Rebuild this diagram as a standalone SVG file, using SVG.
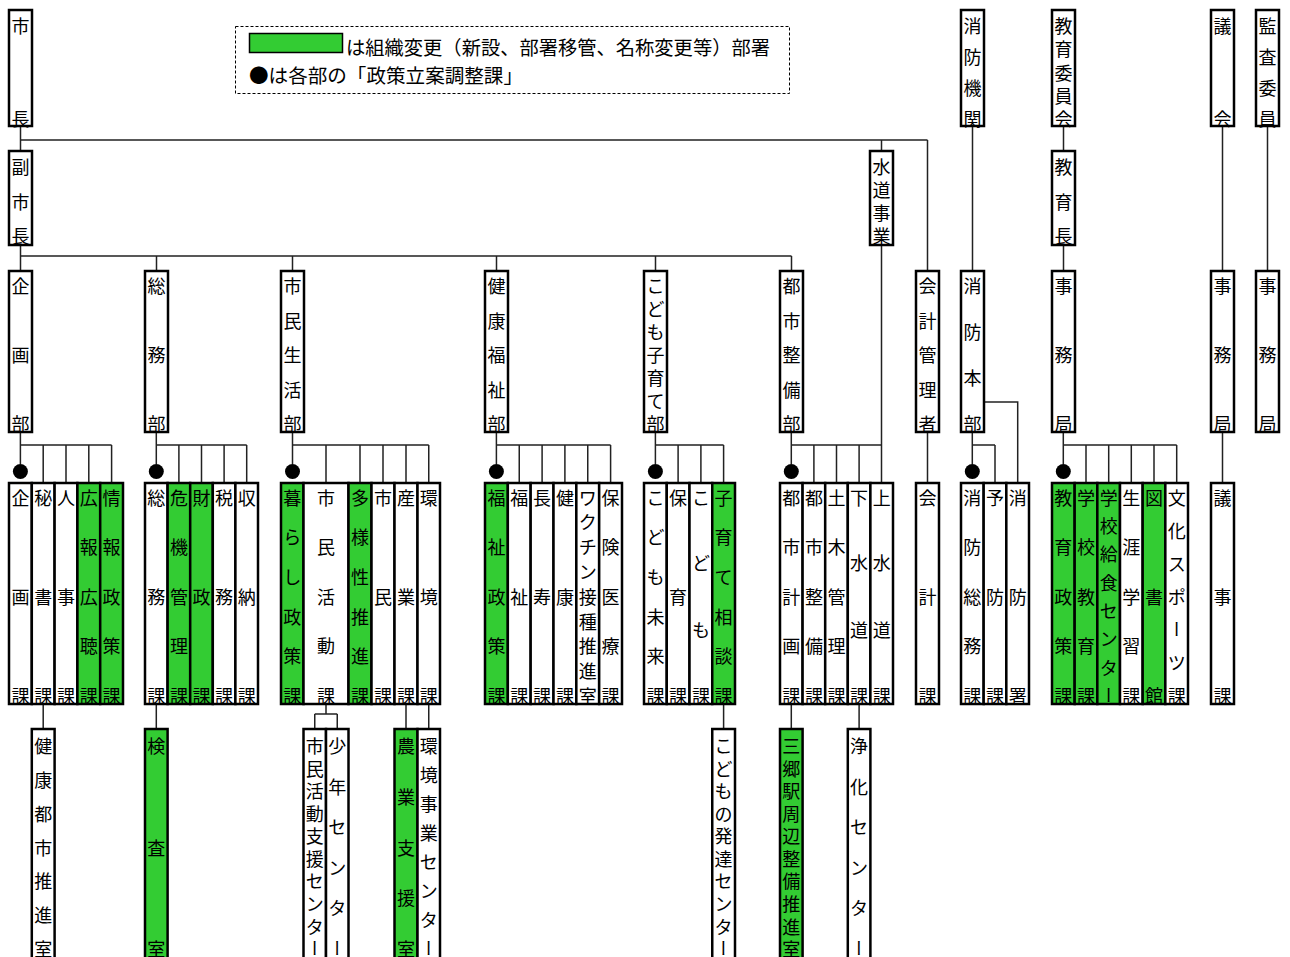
<svg xmlns="http://www.w3.org/2000/svg" width="1290" height="957" viewBox="0 0 1290 957">
<style>
.b{fill:#fff;stroke:#000;stroke-width:2.5}
.g{fill:#33cc33;stroke:#000;stroke-width:2.5}
.ln{fill:none;stroke:#222;stroke-width:1.5}
text{font-family:'Noto Sans CJK JP','Noto Sans CJK SC',sans-serif;fill:#000}
.t{font-size:18px;text-anchor:middle;dominant-baseline:central}
.v{writing-mode:vertical-rl}
.lg{font-size:19.5px}
</style>
<rect x="0" y="0" width="1290" height="957" fill="#fff"/>

<g id="legend">
<rect x="235.5" y="26.5" width="554" height="67" fill="none" stroke="#000" stroke-width="1" stroke-dasharray="3,2"/>
<rect x="249.5" y="33.5" width="93" height="19" fill="#33cc33" stroke="#000" stroke-width="1.5"/>
<text class="lg" x="346" y="55" textLength="424" lengthAdjust="spacingAndGlyphs">は組織変更（新設、部署移管、名称変更等）部署</text>
<text class="lg" x="249" y="83" textLength="274" lengthAdjust="spacingAndGlyphs">●は各部の「政策立案調整課」</text>
</g>

<g id="connectors">
<path class="ln" d="M20.5 126V151M20.5 140H927.5M881.5 140V151M927.5 140V271M20.5 245V271M20.5 256H791.5M156.5 256V271M292.5 256V271M496.5 256V271M655.5 256V271M791.5 256V271"/>
<path class="ln" d="M881.5 245V483M972.5 126V271M1063.5 126V151M1063.5 245V271M1222.5 126V271M1267.5 126V271M927.5 432V483M1222.5 432V483"/>
<path class="ln" d="M20.4 432V464M20.4 445H111.6M43.2 445V483M66 445V483M88.8 445V483M111.6 445V483"/>
<path class="ln" d="M156.3 432V464M156.3 445H246.7M178.9 445V483M201.5 445V483M224.1 445V483M246.7 445V483"/>
<path class="ln" d="M292.5 432V464M292.5 445H428.75M326 445V483M360 445V483M383 445V483M406 445V483M428.75 445V483"/>
<path class="ln" d="M496.4 432V464M496.4 445H610.6M519.25 445V483M542.1 445V483M564.9 445V483M587.75 445V483M610.6 445V483"/>
<path class="ln" d="M655.4 432V464M655.4 445H723.6M678.1 445V483M700.9 445V483M723.6 445V483"/>
<path class="ln" d="M791.3 432V464M791.3 445H881.7M813.9 445V483M836.5 445V483M859.1 445V483"/>
<path class="ln" d="M972.3 432V464M972.3 445H995M995 445V483M984 402H1017.7V483"/>
<path class="ln" d="M1063.3 432V464M1063.3 445H1176.7M1086 445V483M1108.7 445V483M1131.3 445V483M1154 445V483M1176.7 445V483"/>
<path class="ln" d="M43.2 704V729M156.3 704V729M326 704V714M314.75 714H337.25M314.75 714V729M337.25 714V729M406 704V729M428.75 704V729M723.6 704V729M791.3 704V729M859.1 704V729"/>
<g fill="#000">
<circle cx="20.4" cy="471.5" r="7.5"/><circle cx="156.3" cy="471.5" r="7.5"/><circle cx="292.5" cy="471.5" r="7.5"/><circle cx="496.4" cy="471.5" r="7.5"/><circle cx="655.4" cy="471.5" r="7.5"/><circle cx="791.3" cy="471.5" r="7.5"/><circle cx="972.3" cy="471.5" r="7.5"/><circle cx="1063.3" cy="471.5" r="7.5"/>
</g>
</g>

<g id="mayor"><rect class="b" x="9" y="10" width="23" height="116"/><text class="t" x="20.5" y="25">市</text><text class="t" x="20.5" y="118">長</text></g>
<g id="vice-mayor"><rect class="b" x="9" y="151" width="23" height="94"/><text class="t" x="20.5" y="166">副</text><text class="t" x="20.5" y="200.5">市</text><text class="t" x="20.5" y="235">長</text></g>
<g id="water"><rect class="b" x="870" y="151" width="23" height="94"/><text class="t" x="881.5" y="166">水</text><text class="t" x="881.5" y="189">道</text><text class="t" x="881.5" y="212">事</text><text class="t" x="881.5" y="235">業</text></g>
<g id="fire-org"><rect class="b" x="961" y="10" width="23" height="116"/><text class="t" x="972.5" y="25">消</text><text class="t" x="972.5" y="56">防</text><text class="t" x="972.5" y="87">機</text><text class="t" x="972.5" y="118">関</text></g>
<g id="edu-board"><rect class="b" x="1052" y="10" width="23" height="116"/><text class="t" x="1063.5" y="25">教</text><text class="t" x="1063.5" y="48.25">育</text><text class="t" x="1063.5" y="71.5">委</text><text class="t" x="1063.5" y="94.75">員</text><text class="t" x="1063.5" y="118">会</text></g>
<g id="edu-chief"><rect class="b" x="1052" y="151" width="23" height="94"/><text class="t" x="1063.5" y="166">教</text><text class="t" x="1063.5" y="200.5">育</text><text class="t" x="1063.5" y="235">長</text></g>
<g id="council"><rect class="b" x="1211" y="10" width="23" height="116"/><text class="t" x="1222.5" y="25">議</text><text class="t" x="1222.5" y="118">会</text></g>
<g id="audit"><rect class="b" x="1256" y="10" width="23" height="116"/><text class="t" x="1267.5" y="25">監</text><text class="t" x="1267.5" y="56">査</text><text class="t" x="1267.5" y="87">委</text><text class="t" x="1267.5" y="118">員</text></g>

<g id="dept-kikaku"><rect class="b" x="9" y="271" width="23" height="161"/><text class="t" x="20.5" y="285">企</text><text class="t" x="20.5" y="354">画</text><text class="t" x="20.5" y="423">部</text></g>
<g id="dept-somu"><rect class="b" x="145" y="271" width="23" height="161"/><text class="t" x="156.5" y="285">総</text><text class="t" x="156.5" y="354">務</text><text class="t" x="156.5" y="423">部</text></g>
<g id="dept-shimin"><rect class="b" x="281" y="271" width="23" height="161"/><text class="t" x="292.5" y="285">市</text><text class="t" x="292.5" y="319.5">民</text><text class="t" x="292.5" y="354">生</text><text class="t" x="292.5" y="388.5">活</text><text class="t" x="292.5" y="423">部</text></g>
<g id="dept-kenko"><rect class="b" x="485" y="271" width="23" height="161"/><text class="t" x="496.5" y="285">健</text><text class="t" x="496.5" y="319.5">康</text><text class="t" x="496.5" y="354">福</text><text class="t" x="496.5" y="388.5">祉</text><text class="t" x="496.5" y="423">部</text></g>
<g id="dept-kodomo"><rect class="b" x="644" y="271" width="23" height="161"/><text class="t" x="655.5" y="285">こ</text><text class="t" x="655.5" y="308">ど</text><text class="t" x="655.5" y="331">も</text><text class="t" x="655.5" y="354">子</text><text class="t" x="655.5" y="377">育</text><text class="t" x="655.5" y="400">て</text><text class="t" x="655.5" y="423">部</text></g>
<g id="dept-toshi"><rect class="b" x="780" y="271" width="23" height="161"/><text class="t" x="791.5" y="285">都</text><text class="t" x="791.5" y="319.5">市</text><text class="t" x="791.5" y="354">整</text><text class="t" x="791.5" y="388.5">備</text><text class="t" x="791.5" y="423">部</text></g>
<g id="dept-kaikei"><rect class="b" x="916" y="271" width="23" height="161"/><text class="t" x="927.5" y="285">会</text><text class="t" x="927.5" y="319.5">計</text><text class="t" x="927.5" y="354">管</text><text class="t" x="927.5" y="388.5">理</text><text class="t" x="927.5" y="423">者</text></g>
<g id="dept-shobo"><rect class="b" x="961" y="271" width="23" height="161"/><text class="t" x="972.5" y="285">消</text><text class="t" x="972.5" y="331">防</text><text class="t" x="972.5" y="377">本</text><text class="t" x="972.5" y="423">部</text></g>
<g id="dept-edu"><rect class="b" x="1052" y="271" width="23" height="161"/><text class="t" x="1063.5" y="285">事</text><text class="t" x="1063.5" y="354">務</text><text class="t" x="1063.5" y="423">局</text></g>
<g id="dept-council"><rect class="b" x="1211" y="271" width="23" height="161"/><text class="t" x="1222.5" y="285">事</text><text class="t" x="1222.5" y="354">務</text><text class="t" x="1222.5" y="423">局</text></g>
<g id="dept-audit"><rect class="b" x="1256" y="271" width="23" height="161"/><text class="t" x="1267.5" y="285">事</text><text class="t" x="1267.5" y="354">務</text><text class="t" x="1267.5" y="423">局</text></g>

<g id="sec-kikaku">
<rect class="b" x="9" y="483" width="22.8" height="221"/><text class="t" x="20.4" y="496.5">企</text><text class="t" x="20.4" y="595.5">画</text><text class="t" x="20.4" y="695">課</text>
<rect class="b" x="31.8" y="483" width="22.8" height="221"/><text class="t" x="43.2" y="496.5">秘</text><text class="t" x="43.2" y="595.5">書</text><text class="t" x="43.2" y="695">課</text>
<rect class="b" x="54.6" y="483" width="22.8" height="221"/><text class="t" x="66" y="496.5">人</text><text class="t" x="66" y="595.5">事</text><text class="t" x="66" y="695">課</text>
<rect class="g" x="77.4" y="483" width="22.8" height="221"/><text class="t" x="88.8" y="496.5">広</text><text class="t" x="88.8" y="546">報</text><text class="t" x="88.8" y="595.5">広</text><text class="t" x="88.8" y="645">聴</text><text class="t" x="88.8" y="695">課</text>
<rect class="g" x="100.2" y="483" width="22.8" height="221"/><text class="t" x="111.6" y="496.5">情</text><text class="t" x="111.6" y="546">報</text><text class="t" x="111.6" y="595.5">政</text><text class="t" x="111.6" y="645">策</text><text class="t" x="111.6" y="695">課</text>
</g>
<g id="sec-somu">
<rect class="b" x="145" y="483" width="22.6" height="221"/><text class="t" x="156.3" y="496.5">総</text><text class="t" x="156.3" y="595.5">務</text><text class="t" x="156.3" y="695">課</text>
<rect class="g" x="167.6" y="483" width="22.6" height="221"/><text class="t" x="178.9" y="496.5">危</text><text class="t" x="178.9" y="546">機</text><text class="t" x="178.9" y="595.5">管</text><text class="t" x="178.9" y="645">理</text><text class="t" x="178.9" y="695">課</text>
<rect class="g" x="190.2" y="483" width="22.6" height="221"/><text class="t" x="201.5" y="496.5">財</text><text class="t" x="201.5" y="595.5">政</text><text class="t" x="201.5" y="695">課</text>
<rect class="b" x="212.8" y="483" width="22.6" height="221"/><text class="t" x="224.1" y="496.5">税</text><text class="t" x="224.1" y="595.5">務</text><text class="t" x="224.1" y="695">課</text>
<rect class="b" x="235.4" y="483" width="22.6" height="221"/><text class="t" x="246.7" y="496.5">収</text><text class="t" x="246.7" y="595.5">納</text><text class="t" x="246.7" y="695">課</text>
</g>
<g id="sec-shimin">
<rect class="g" x="281" y="483" width="22.5" height="221"/><text class="t" x="292.25" y="496.5">暮</text><text class="t" x="292.25" y="536.2">ら</text><text class="t" x="292.25" y="575.9">し</text><text class="t" x="292.25" y="615.6">政</text><text class="t" x="292.25" y="655.3">策</text><text class="t" x="292.25" y="695">課</text>
<rect class="b" x="303.5" y="483" width="45" height="221"/><text class="t" x="326" y="496.5">市</text><text class="t" x="326" y="546">民</text><text class="t" x="326" y="595.5">活</text><text class="t" x="326" y="645">動</text><text class="t" x="326" y="695">課</text>
<rect class="g" x="348.5" y="483" width="23" height="221"/><text class="t" x="360" y="496.5">多</text><text class="t" x="360" y="536.2">様</text><text class="t" x="360" y="575.9">性</text><text class="t" x="360" y="615.6">推</text><text class="t" x="360" y="655.3">進</text><text class="t" x="360" y="695">課</text>
<rect class="b" x="371.5" y="483" width="23" height="221"/><text class="t" x="383" y="496.5">市</text><text class="t" x="383" y="595.5">民</text><text class="t" x="383" y="695">課</text>
<rect class="b" x="394.5" y="483" width="23" height="221"/><text class="t" x="406" y="496.5">産</text><text class="t" x="406" y="595.5">業</text><text class="t" x="406" y="695">課</text>
<rect class="b" x="417.5" y="483" width="22.5" height="221"/><text class="t" x="428.75" y="496.5">環</text><text class="t" x="428.75" y="595.5">境</text><text class="t" x="428.75" y="695">課</text>
</g>
<g id="sec-kenko">
<rect class="g" x="485" y="483" width="22.83" height="221"/><text class="t" x="496.4" y="496.5">福</text><text class="t" x="496.4" y="546">祉</text><text class="t" x="496.4" y="595.5">政</text><text class="t" x="496.4" y="645">策</text><text class="t" x="496.4" y="695">課</text>
<rect class="b" x="507.83" y="483" width="22.83" height="221"/><text class="t" x="519.25" y="496.5">福</text><text class="t" x="519.25" y="595.5">祉</text><text class="t" x="519.25" y="695">課</text>
<rect class="b" x="530.67" y="483" width="22.83" height="221"/><text class="t" x="542.1" y="496.5">長</text><text class="t" x="542.1" y="595.5">寿</text><text class="t" x="542.1" y="695">課</text>
<rect class="b" x="553.5" y="483" width="22.83" height="221"/><text class="t" x="564.9" y="496.5">健</text><text class="t" x="564.9" y="595.5">康</text><text class="t" x="564.9" y="695">課</text>
<rect class="b" x="576.33" y="483" width="22.83" height="221"/><text class="t" x="587.75" y="496.5">ワ</text><text class="t" x="587.75" y="521.3">ク</text><text class="t" x="587.75" y="546.1">チ</text><text class="t" x="587.75" y="570.9">ン</text><text class="t" x="587.75" y="595.7">接</text><text class="t" x="587.75" y="620.5">種</text><text class="t" x="587.75" y="645.4">推</text><text class="t" x="587.75" y="670.2">進</text><text class="t" x="587.75" y="695">室</text>
<rect class="b" x="599.17" y="483" width="22.83" height="221"/><text class="t" x="610.6" y="496.5">保</text><text class="t" x="610.6" y="546">険</text><text class="t" x="610.6" y="595.5">医</text><text class="t" x="610.6" y="645">療</text><text class="t" x="610.6" y="695">課</text>
</g>
<g id="sec-kodomo">
<rect class="b" x="644" y="483" width="22.75" height="221"/><text class="t" x="655.4" y="496.5">こ</text><text class="t" x="655.4" y="536.2">ど</text><text class="t" x="655.4" y="575.9">も</text><text class="t" x="655.4" y="615.6">未</text><text class="t" x="655.4" y="655.3">来</text><text class="t" x="655.4" y="695">課</text>
<rect class="b" x="666.75" y="483" width="22.75" height="221"/><text class="t" x="678.1" y="496.5">保</text><text class="t" x="678.1" y="595.5">育</text><text class="t" x="678.1" y="695">課</text>
<rect class="b" x="689.5" y="483" width="22.75" height="221"/><text class="t" x="700.9" y="496.5">こ</text><text class="t" x="700.9" y="562">ど</text><text class="t" x="700.9" y="628.5">も</text><text class="t" x="700.9" y="695">課</text>
<rect class="g" x="712.25" y="483" width="22.75" height="221"/><text class="t" x="723.6" y="496.5">子</text><text class="t" x="723.6" y="536.2">育</text><text class="t" x="723.6" y="575.9">て</text><text class="t" x="723.6" y="615.6">相</text><text class="t" x="723.6" y="655.3">談</text><text class="t" x="723.6" y="695">課</text>
</g>
<g id="sec-toshi">
<rect class="b" x="780" y="483" width="22.6" height="221"/><text class="t" x="791.3" y="496.5">都</text><text class="t" x="791.3" y="546">市</text><text class="t" x="791.3" y="595.5">計</text><text class="t" x="791.3" y="645">画</text><text class="t" x="791.3" y="695">課</text>
<rect class="b" x="802.6" y="483" width="22.6" height="221"/><text class="t" x="813.9" y="496.5">都</text><text class="t" x="813.9" y="546">市</text><text class="t" x="813.9" y="595.5">整</text><text class="t" x="813.9" y="645">備</text><text class="t" x="813.9" y="695">課</text>
<rect class="b" x="825.2" y="483" width="22.6" height="221"/><text class="t" x="836.5" y="496.5">土</text><text class="t" x="836.5" y="546">木</text><text class="t" x="836.5" y="595.5">管</text><text class="t" x="836.5" y="645">理</text><text class="t" x="836.5" y="695">課</text>
<rect class="b" x="847.8" y="483" width="22.6" height="221"/><text class="t" x="859.1" y="496.5">下</text><text class="t" x="859.1" y="562">水</text><text class="t" x="859.1" y="628.5">道</text><text class="t" x="859.1" y="695">課</text>
<rect class="b" x="870.4" y="483" width="22.6" height="221"/><text class="t" x="881.7" y="496.5">上</text><text class="t" x="881.7" y="562">水</text><text class="t" x="881.7" y="628.5">道</text><text class="t" x="881.7" y="695">課</text>
</g>
<g id="sec-kaikei"><rect class="b" x="916" y="483" width="23" height="221"/><text class="t" x="927.5" y="496.5">会</text><text class="t" x="927.5" y="595.5">計</text><text class="t" x="927.5" y="695">課</text></g>
<g id="sec-shobo">
<rect class="b" x="961" y="483" width="22.67" height="221"/><text class="t" x="972.3" y="496.5">消</text><text class="t" x="972.3" y="546">防</text><text class="t" x="972.3" y="595.5">総</text><text class="t" x="972.3" y="645">務</text><text class="t" x="972.3" y="695">課</text>
<rect class="b" x="983.67" y="483" width="22.67" height="221"/><text class="t" x="995" y="496.5">予</text><text class="t" x="995" y="595.5">防</text><text class="t" x="995" y="695">課</text>
<rect class="b" x="1006.33" y="483" width="22.67" height="221"/><text class="t" x="1017.7" y="496.5">消</text><text class="t" x="1017.7" y="595.5">防</text><text class="t" x="1017.7" y="695">署</text>
</g>
<g id="sec-edu">
<rect class="g" x="1052" y="483" width="22.67" height="221"/><text class="t" x="1063.3" y="496.5">教</text><text class="t" x="1063.3" y="546">育</text><text class="t" x="1063.3" y="595.5">政</text><text class="t" x="1063.3" y="645">策</text><text class="t" x="1063.3" y="695">課</text>
<rect class="g" x="1074.67" y="483" width="22.67" height="221"/><text class="t" x="1086" y="496.5">学</text><text class="t" x="1086" y="546">校</text><text class="t" x="1086" y="595.5">教</text><text class="t" x="1086" y="645">育</text><text class="t" x="1086" y="695">課</text>
<rect class="g" x="1097.33" y="483" width="22.67" height="221"/><text class="t" x="1108.7" y="496.5">学</text><text class="t" x="1108.7" y="524.9">校</text><text class="t" x="1108.7" y="553.2">給</text><text class="t" x="1108.7" y="581.6">食</text><text class="t" x="1108.7" y="609.9">セ</text><text class="t" x="1108.7" y="638.3">ン</text><text class="t" x="1108.7" y="666.6">タ</text><text class="t v" x="1108.7" y="695">ー</text>
<rect class="b" x="1120" y="483" width="22.67" height="221"/><text class="t" x="1131.3" y="496.5">生</text><text class="t" x="1131.3" y="546">涯</text><text class="t" x="1131.3" y="595.5">学</text><text class="t" x="1131.3" y="645">習</text><text class="t" x="1131.3" y="695">課</text>
<rect class="g" x="1142.67" y="483" width="22.67" height="221"/><text class="t" x="1154" y="496.5">図</text><text class="t" x="1154" y="595.5">書</text><text class="t" x="1154" y="695">館</text>
<rect class="b" x="1165.33" y="483" width="22.67" height="221"/><text class="t" x="1176.7" y="496.5">文</text><text class="t" x="1176.7" y="529.6">化</text><text class="t" x="1176.7" y="562.7">ス</text><text class="t" x="1176.7" y="595.8">ポ</text><text class="t v" x="1176.7" y="628.8">ー</text><text class="t" x="1176.7" y="661.9">ツ</text><text class="t" x="1176.7" y="695">課</text>
</g>
<g id="sec-council"><rect class="b" x="1211" y="483" width="23" height="221"/><text class="t" x="1222.5" y="496.5">議</text><text class="t" x="1222.5" y="595.5">事</text><text class="t" x="1222.5" y="695">課</text></g>

<g id="sub-kenkotoshi"><rect class="b" x="31.8" y="729" width="22.8" height="245"/><text class="t" x="43.2" y="745">健</text><text class="t" x="43.2" y="778.8">康</text><text class="t" x="43.2" y="812.7">都</text><text class="t" x="43.2" y="846.5">市</text><text class="t" x="43.2" y="880.3">推</text><text class="t" x="43.2" y="914.2">進</text><text class="t" x="43.2" y="948">室</text></g>
<g id="sub-kensa"><rect class="g" x="145" y="729" width="22.6" height="245"/><text class="t" x="156.3" y="745">検</text><text class="t" x="156.3" y="846.5">査</text><text class="t" x="156.3" y="948">室</text></g>
<g id="sub-shiminkatsudo"><rect class="b" x="303.5" y="729" width="22.5" height="245"/><text class="t" x="314.75" y="745">市</text><text class="t" x="314.75" y="767.6">民</text><text class="t" x="314.75" y="790.1">活</text><text class="t" x="314.75" y="812.7">動</text><text class="t" x="314.75" y="835.2">支</text><text class="t" x="314.75" y="857.8">援</text><text class="t" x="314.75" y="880.4">セ</text><text class="t" x="314.75" y="902.9">ン</text><text class="t" x="314.75" y="925.5">タ</text><text class="t v" x="314.75" y="948">ー</text></g>
<g id="sub-shonen"><rect class="b" x="326" y="729" width="22.5" height="245"/><text class="t" x="337.25" y="745">少</text><text class="t" x="337.25" y="785.6">年</text><text class="t" x="337.25" y="826.2">セ</text><text class="t" x="337.25" y="866.8">ン</text><text class="t" x="337.25" y="907.4">タ</text><text class="t v" x="337.25" y="948">ー</text></g>
<g id="sub-nogyo"><rect class="g" x="394.5" y="729" width="23" height="245"/><text class="t" x="406" y="745">農</text><text class="t" x="406" y="795.75">業</text><text class="t" x="406" y="846.5">支</text><text class="t" x="406" y="897.25">援</text><text class="t" x="406" y="948">室</text></g>
<g id="sub-kankyo"><rect class="b" x="417.5" y="729" width="22.5" height="245"/><text class="t" x="428.75" y="745">環</text><text class="t" x="428.75" y="774">境</text><text class="t" x="428.75" y="803">事</text><text class="t" x="428.75" y="832">業</text><text class="t" x="428.75" y="861">セ</text><text class="t" x="428.75" y="890">ン</text><text class="t" x="428.75" y="919">タ</text><text class="t v" x="428.75" y="948">ー</text></g>
<g id="sub-hattatsu"><rect class="b" x="712.25" y="729" width="22.75" height="245"/><text class="t" x="723.6" y="745">こ</text><text class="t" x="723.6" y="767.6">ど</text><text class="t" x="723.6" y="790.1">も</text><text class="t" x="723.6" y="812.7">の</text><text class="t" x="723.6" y="835.2">発</text><text class="t" x="723.6" y="857.8">達</text><text class="t" x="723.6" y="880.4">セ</text><text class="t" x="723.6" y="902.9">ン</text><text class="t" x="723.6" y="925.5">タ</text><text class="t v" x="723.6" y="948">ー</text></g>
<g id="sub-misato"><rect class="g" x="780" y="729" width="22.6" height="245"/><text class="t" x="791.3" y="745">三</text><text class="t" x="791.3" y="767.6">郷</text><text class="t" x="791.3" y="790.1">駅</text><text class="t" x="791.3" y="812.7">周</text><text class="t" x="791.3" y="835.2">辺</text><text class="t" x="791.3" y="857.8">整</text><text class="t" x="791.3" y="880.4">備</text><text class="t" x="791.3" y="902.9">推</text><text class="t" x="791.3" y="925.5">進</text><text class="t" x="791.3" y="948">室</text></g>
<g id="sub-joka"><rect class="b" x="847.8" y="729" width="22.6" height="245"/><text class="t" x="859.1" y="745">浄</text><text class="t" x="859.1" y="785.6">化</text><text class="t" x="859.1" y="826.2">セ</text><text class="t" x="859.1" y="866.8">ン</text><text class="t" x="859.1" y="907.4">タ</text><text class="t v" x="859.1" y="948">ー</text></g>
</svg>
